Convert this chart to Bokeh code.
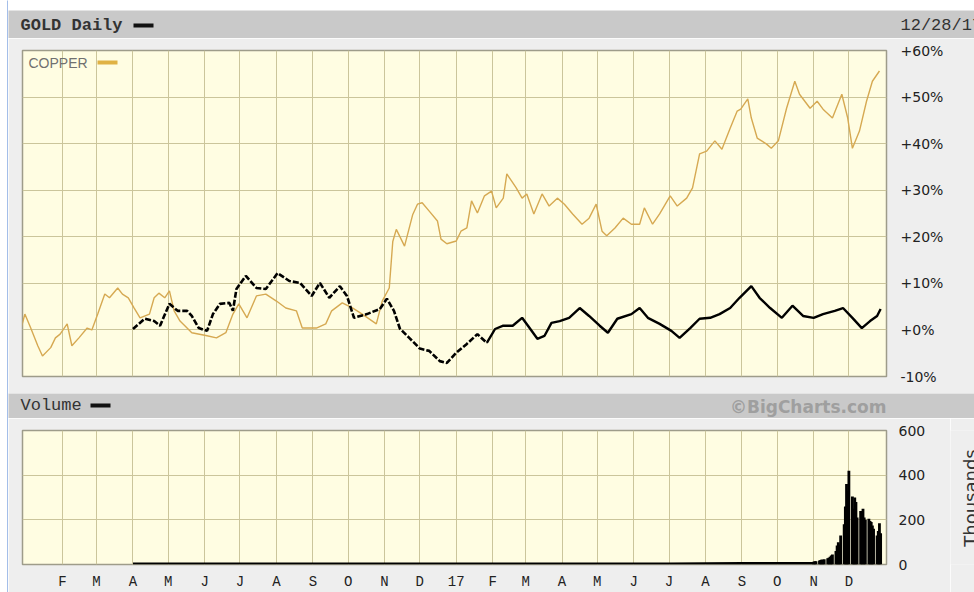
import math
import pandas as pd
from bokeh.plotting import figure
from bokeh.models import Range1d, FixedTicker, BoxAnnotation, Label
from bokeh.layouts import column, row
from bokeh.embed import file_html
from bokeh.resources import INLINE
from bokeh.core.properties import value

# ---------------- data ----------------
copper_dates = [
    "2015-12-28", "2015-12-31", "2016-01-05", "2016-01-11", "2016-01-15", "2016-01-22", "2016-01-26",
    "2016-01-30", "2016-02-05", "2016-02-09", "2016-02-15", "2016-02-22", "2016-02-26", "2016-03-02",
    "2016-03-08", "2016-03-12", "2016-03-19", "2016-03-23", "2016-03-28", "2016-04-02", "2016-04-07",
    "2016-04-15", "2016-04-19", "2016-04-23", "2016-04-28", "2016-05-02", "2016-05-06", "2016-05-11",
    "2016-05-17", "2016-05-21", "2016-06-02", "2016-06-11", "2016-06-19", "2016-06-25", "2016-06-30",
    "2016-07-07", "2016-07-15", "2016-07-23", "2016-08-01", "2016-08-09", "2016-08-18", "2016-08-23",
    "2016-09-04", "2016-09-12", "2016-09-17", "2016-09-26", "2016-10-05", "2016-10-13", "2016-10-25",
    "2016-10-30", "2016-11-05", "2016-11-08", "2016-11-11", "2016-11-18", "2016-11-25", "2016-11-29",
    "2016-12-03", "2016-12-09", "2016-12-16", "2016-12-19", "2016-12-24", "2017-01-01", "2017-01-05",
    "2017-01-10", "2017-01-14", "2017-01-19", "2017-01-25", "2017-01-31", "2017-02-04", "2017-02-10",
    "2017-02-13", "2017-02-17", "2017-02-21", "2017-02-26", "2017-03-02", "2017-03-08", "2017-03-15",
    "2017-03-21", "2017-03-28", "2017-04-03", "2017-04-10", "2017-04-18", "2017-04-24", "2017-04-30",
    "2017-05-05", "2017-05-09", "2017-05-16", "2017-05-23", "2017-05-30", "2017-06-06", "2017-06-10",
    "2017-06-17", "2017-06-23", "2017-07-02", "2017-07-08", "2017-07-16", "2017-07-21", "2017-07-27",
    "2017-08-02", "2017-08-09", "2017-08-15", "2017-08-22", "2017-08-28", "2017-08-31", "2017-09-06",
    "2017-09-09", "2017-09-14", "2017-09-22", "2017-09-26", "2017-10-02", "2017-10-09", "2017-10-16",
    "2017-10-20", "2017-10-29", "2017-11-04", "2017-11-09", "2017-11-17", "2017-11-25", "2017-11-30",
    "2017-12-04", "2017-12-10", "2017-12-16", "2017-12-21", "2017-12-27",
]
copper_pct = [
    0.5, 3.4, 0.4, -3.4, -5.6, -3.8, -1.7,
    -0.9, 1.3, -3.4, -1.7, 0.4, 0.0, 3.4,
    7.7, 6.9, 9.0, 7.7, 6.9, 4.7, 2.6,
    3.4, 6.9, 7.9, 6.9, 8.4, 4.1, 1.9,
    0.4, -0.6, -1.2, -1.7, -0.6, 3.4, 5.6,
    2.6, 7.3, 7.7, 6.2, 4.7, 4.1, 0.4,
    0.4, 1.3, 4.1, 5.8, 4.7, 3.4, 1.3,
    6.2, 9.0, 19.0, 21.6, 18.0, 24.8, 27.0,
    27.3, 25.5, 23.4, 19.5, 18.5, 19.1, 21.2,
    21.9, 27.7, 25.1, 28.8, 29.8, 26.2, 28.3,
    33.5, 32.0, 30.5, 28.3, 29.2, 24.9, 29.2,
    26.6, 28.3, 27.0, 24.9, 22.7, 24.0, 27.0,
    21.2, 20.2, 21.9, 24.0, 22.7, 22.7, 26.2,
    22.7, 24.9, 28.8, 26.6, 28.3, 30.5, 37.8,
    38.4, 40.6, 38.8, 43.3, 47.0, 47.4, 49.6,
    45.5, 41.2, 39.9, 39.0, 40.6, 47.6, 53.4,
    50.6, 47.6, 49.1, 47.4, 45.5, 50.6, 45.5,
    39.0, 42.7, 49.1, 53.4, 55.6,
]

gold_dates = [
    "2016-04-01", "2016-04-11", "2016-04-19", "2016-04-24", "2016-05-02", "2016-05-09", "2016-05-17",
    "2016-05-21", "2016-05-27", "2016-06-03", "2016-06-08", "2016-06-14", "2016-06-22", "2016-06-25",
    "2016-06-28", "2016-07-06", "2016-07-15", "2016-07-23", "2016-08-02", "2016-08-12", "2016-08-21",
    "2016-08-31", "2016-09-07", "2016-09-15", "2016-09-24", "2016-09-30", "2016-10-06", "2016-10-17",
    "2016-10-28", "2016-11-03", "2016-11-09", "2016-11-14", "2016-11-22", "2016-12-01", "2016-12-09",
    "2016-12-18", "2016-12-24", "2017-01-01", "2017-01-10", "2017-01-19", "2017-01-27", "2017-02-03",
    "2017-02-10", "2017-02-18", "2017-02-26", "2017-03-03", "2017-03-11", "2017-03-17", "2017-03-23",
    "2017-03-30", "2017-04-07", "2017-04-16", "2017-04-24", "2017-05-03", "2017-05-10", "2017-05-18",
    "2017-05-30", "2017-06-06", "2017-06-13", "2017-06-23", "2017-07-03", "2017-07-10", "2017-07-19",
    "2017-07-27", "2017-08-05", "2017-08-13", "2017-08-22", "2017-08-30", "2017-09-09", "2017-09-16",
    "2017-09-25", "2017-10-05", "2017-10-14", "2017-10-23", "2017-11-01", "2017-11-09", "2017-11-19",
    "2017-11-26", "2017-12-04", "2017-12-12", "2017-12-19", "2017-12-25", "2017-12-28",
]
gold_pct = [
    0.2, 2.4, 1.9, 0.9, 5.6, 4.1, 4.1,
    3.0, 0.4, -0.2, 3.4, 5.6, 5.8, 4.1,
    8.8, 11.6, 9.0, 8.8, 12.2, 10.5, 10.1,
    7.3, 10.1, 6.9, 9.4, 7.3, 2.6, 3.4,
    4.5, 6.7, 4.1, 0.3, -1.7, -4.0, -4.5,
    -6.7, -7.1, -4.9, -3.0, -0.9, -2.8, 0.2,
    0.9, 0.9, 2.6, 0.9, -1.9, -1.3, 1.5,
    1.9, 2.6, 4.7, 3.0, 0.9, -0.6, 2.4,
    3.4, 4.7, 2.6, 1.3, -0.2, -1.7, 0.4,
    2.4, 2.6, 3.4, 4.7, 6.9, 9.4, 6.9,
    4.7, 2.6, 5.2, 3.0, 2.6, 3.4, 4.1,
    4.7, 2.6, 0.4, 1.9, 3.0, 4.5,
]
gold_sparse_until = "2017-01-27"   # sparse (dashed-looking) part of the GOLD series

# volume (thousands): thin base level, then daily bars Nov-Dec 2017
vol_base_dates = [
    "2016-04-01", "2016-05-01", "2016-06-01", "2016-07-01", "2016-08-01", "2016-09-01", "2016-10-01",
    "2016-11-01", "2016-12-01", "2017-01-01", "2017-02-01", "2017-03-01", "2017-04-01", "2017-05-01",
    "2017-06-01", "2017-07-01", "2017-08-01", "2017-09-01", "2017-10-01", "2017-11-01",
]
vol_base = [9, 9, 9, 9, 9, 9, 9, 9, 9, 9, 9, 9, 9, 9, 9, 9, 10, 11, 11, 11]
vol_daily_dates = list(pd.bdate_range("2017-11-01", "2017-12-28"))
vol_daily = [
    12, 14, 15,
    18, 20, 22, 20, 24,
    28, 30, 35, 40, 45,
    60, 85, 100, 90, 130,
    180, 260, 360, 330,
    420,
    305, 250, 300, 280, 210,
    240, 220, 250, 210, 200,
    205, 195, 190, 175, 160,
    130, 150, 185, 140,
]

pct_ticks = [-10, 0, 10, 20, 30, 40, 50, 60]
pct_labels = ["-10%", "+0%", "+10%", "+20%", "+30%", "+40%", "+50%", "+60%"]
vol_ticks = [0, 200, 400, 600]
vol_labels = ["0", "200", "400", "600"]
month_ticks = [
    "2016-02-01", "2016-03-01", "2016-04-01", "2016-05-01", "2016-06-01", "2016-07-01", "2016-08-01",
    "2016-09-01", "2016-10-01", "2016-11-01", "2016-12-01", "2017-01-01", "2017-02-01", "2017-03-01",
    "2017-04-01", "2017-05-01", "2017-06-01", "2017-07-01", "2017-08-01", "2017-09-01", "2017-10-01",
    "2017-11-01", "2017-12-01",
]
month_labels = ["F", "M", "A", "M", "J", "J", "A", "S", "O", "N", "D", "17",
                "F", "M", "A", "M", "J", "J", "A", "S", "O", "N", "D"]

# ---------------- styling ----------------
BG = "#eeeeee"
HDR = "#c9c9c9"
PLOT_BG = "#fffde2"
GRID = "#cbc59b"
BLUE = "#4a7fd4"
COPPER = "#d6a952"
MONO = "Liberation Mono"
SANS = "DejaVu Sans"
BL, BR = 14, 88          # side borders of the plot panels (frame spans 864 px)

x_start = pd.Timestamp("2015-12-29")
x_end = pd.Timestamp("2018-01-02")


def ms(d):
    return int(pd.Timestamp(d).value // 10**6)


tick_ms = [ms(d) for d in month_ticks]


def deco_fig(w, h, bg, left=0, right=0, top=0, bottom=0):
    f = figure(width=w, height=h, x_range=Range1d(0, w - left - right),
               y_range=Range1d(h - top - bottom, 0),
               min_border_left=left, min_border_right=right,
               min_border_top=top, min_border_bottom=bottom,
               x_axis_location=None, y_axis_location=None, background_fill_color=bg,
               border_fill_color=bg, outline_line_color=None,
               output_backend="svg", toolbar_location=None)
    f.xgrid.visible = False
    f.ygrid.visible = False
    return f


def deco_text(f, x, y, text, font, size, color, style="normal", align="left", angle=0.0):
    f.text(x=[x], y=[y], text=[text], text_font=value(font), text_font_size=size,
           text_color=color, text_font_style=style, text_align=align,
           text_baseline="middle", angle=angle)


def style_axis(ax, font, size, standoff):
    ax.major_tick_out = 0
    ax.major_tick_in = 0
    ax.minor_tick_out = 0
    ax.minor_tick_in = 0
    ax.axis_line_color = None
    ax.major_label_standoff = standoff
    ax.major_label_text_font = font
    ax.major_label_text_font_size = size
    ax.major_label_text_color = "#222222"


# ---------------- left margin + blue frame line ----------------
strip_white = deco_fig(7, 592, "white")
strip_blue = deco_fig(1, 592, BLUE)

# ---------------- top header ----------------
top_white = deco_fig(966, 8, "white")
top_blue = deco_fig(966, 1, BLUE)
top_light = deco_fig(966, 1, BG)
h1 = deco_fig(966, 28, HDR)
deco_text(h1, 12, 15, "GOLD Daily", MONO, "17px", "#333333", style="bold")
h1.quad(left=[125], right=[145], top=[13], bottom=[17], fill_color="#111111", line_color=None)
deco_text(h1, 892, 15, "12/28/17", MONO, "17px", "#333333")

# ---------------- price panel ----------------
p = figure(width=966, height=355, x_axis_type="datetime", x_axis_location=None, y_axis_location="right",
           x_range=Range1d(x_start, x_end), y_range=Range1d(-10, 60),
           min_border_left=BL, min_border_right=BR, min_border_top=12, min_border_bottom=17,
           background_fill_color=PLOT_BG, border_fill_color=BG,
           outline_line_color="#9e9c8a", outline_line_width=1.5,
           output_backend="svg", toolbar_location=None)

p.yaxis.ticker = FixedTicker(ticks=pct_ticks)
p.yaxis.major_label_overrides = {t: l for t, l in zip(pct_ticks, pct_labels)}
style_axis(p.yaxis[0], SANS, "14px", 14)
p.xgrid.ticker = FixedTicker(ticks=tick_ms)
p.ygrid.ticker = FixedTicker(ticks=pct_ticks)
for g in (p.xgrid, p.ygrid):
    g.grid_line_color = GRID
    g.grid_line_width = 1

cd = pd.to_datetime(copper_dates)
p.line(x=cd, y=copper_pct, line_color=COPPER, line_width=1.4)

gd = pd.to_datetime(gold_dates)
cut = sum(1 for d in gd if d <= pd.Timestamp(gold_sparse_until))
p.line(x=gd[:cut], y=gold_pct[:cut], line_color="black", line_width=2.6, line_dash="6 2")
p.line(x=gd[cut - 1:], y=gold_pct[cut - 1:], line_color="black", line_width=2.4)

p.add_layout(Label(x=20, y=24, x_units="canvas", y_units="canvas", text="COPPER",
                   text_font="Liberation Sans", text_font_size="14px", text_color="#707070",
                   text_baseline="middle"))
p.add_layout(BoxAnnotation(left=89, right=109, top=22, bottom=26,
                           left_units="canvas", right_units="canvas",
                           top_units="canvas", bottom_units="canvas",
                           fill_color="#e0b244", fill_alpha=1.0, line_color=None))

# ---------------- volume header ----------------
h2 = deco_fig(966, 25, HDR)
deco_text(h2, 12, 12, "Volume", MONO, "17px", "#333333")
h2.quad(left=[82], right=[102], top=[10], bottom=[14], fill_color="#111111", line_color=None)
deco_text(h2, 878, 13, "\u00a9BigCharts.com", SANS, "17px", "#9f9f9f", style="bold", align="right")

# ---------------- volume panel ----------------
v = figure(width=942, height=174, x_axis_type="datetime", y_axis_location="right",
           x_range=p.x_range, y_range=Range1d(0, 600),
           min_border_left=BL, min_border_right=64, min_border_top=12, min_border_bottom=27,
           background_fill_color=PLOT_BG, border_fill_color=BG,
           outline_line_color="#9e9c8a", outline_line_width=1.5,
           output_backend="svg", toolbar_location=None)

v.xaxis.ticker = FixedTicker(ticks=tick_ms)
v.xaxis.major_label_overrides = {t: l for t, l in zip(tick_ms, month_labels)}
style_axis(v.xaxis[0], MONO, "14px", 9)
v.yaxis.ticker = FixedTicker(ticks=vol_ticks)
v.yaxis.major_label_overrides = {t: l for t, l in zip(vol_ticks, vol_labels)}
style_axis(v.yaxis[0], SANS, "14px", 12)
v.xgrid.ticker = FixedTicker(ticks=tick_ms)
v.ygrid.ticker = FixedTicker(ticks=vol_ticks)
for g in (v.xgrid, v.ygrid):
    g.grid_line_color = GRID
    g.grid_line_width = 1

v.varea(x=pd.to_datetime(vol_base_dates), y1=0, y2=vol_base, fill_color="black")
v.vbar(x=vol_daily_dates, top=vol_daily, width=86400000 * 2.4, fill_color="black", line_color=None)

# "Thousands" unit label, cut by the right edge as in the original
th = deco_fig(24, 174, BG, top=12, bottom=27)
deco_text(th, 20, 68, "Thousands", SANS, "18px", "#333333", align="center", angle=math.pi / 2)

right_part = column(top_white, top_blue, top_light, row(h1), p, row(h2),
                    row(v, th, spacing=0), spacing=0)
layout = row(strip_white, strip_blue, right_part, spacing=0)
open("out.html", "w").write(file_html(layout, INLINE))
